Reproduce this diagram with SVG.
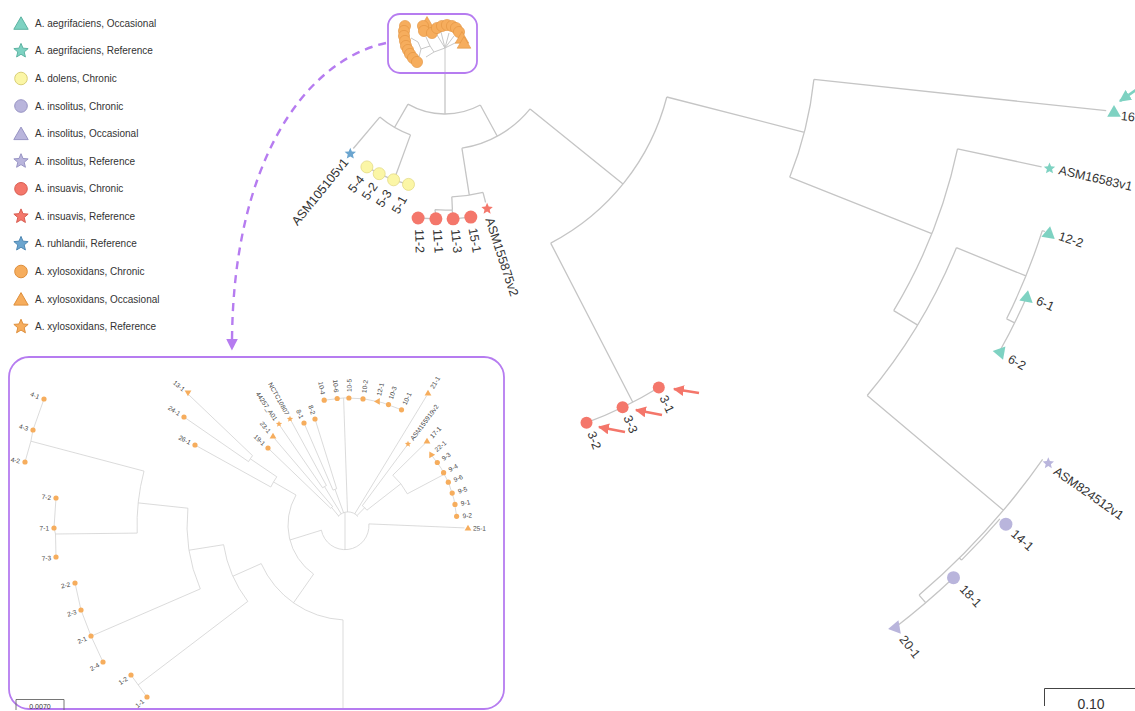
<svg xmlns="http://www.w3.org/2000/svg" width="1135" height="711" viewBox="0 0 1135 711">
<style>
.br{fill:none;stroke:#c5c5c5;stroke-width:1.3}
.ib{fill:none;stroke:#d2d2d2;stroke-width:.8}
.tb{fill:none;stroke:#c8c8c8;stroke-width:1}
text{font-family:"Liberation Sans",Arial,sans-serif;fill:#333}
.lb{font-size:12.5px;dominant-baseline:central}
.il{font-size:6.5px;dominant-baseline:central;fill:#444}
.lg{font-size:10px;dominant-baseline:central}
.e{text-anchor:end}
.teal{fill:#7ed2c2}.yel{fill:#fbf6a6;stroke:#e3da85;stroke-width:.8}.lav{fill:#b9b5dc}.red{fill:#f4776b}.blu{fill:#6ba5cf}.org{fill:#f6ad5d}
.ot{stroke:#5db3a2}.oy{stroke:#d9cf78}.ol{stroke:#9894c4}.or{stroke:#d85c50}.ob{stroke:#4f88b3}.oo{stroke:#de8f3c}
.lgs{stroke-width:1}
.frame{fill:none;stroke:#b67cf0;stroke-width:1.8}
.th{fill:#f6ad5d;stroke:#e0923f;stroke-width:.6}
</style>
<defs>
<path id="tri" d="M0,-6.5 L6.8,5.2 L-6.8,5.2Z"/>
<path id="star" d="M0,-6 L1.59,-2.18 L5.71,-1.85 L2.57,0.83 L3.53,4.85 L0,2.7 L-3.53,4.85 L-2.57,0.83 L-5.71,-1.85 L-1.59,-2.18Z"/>
<path id="trii" d="M0,-3.2 L3.4,2.6 L-3.4,2.6Z"/>
<path id="stari" d="M0,-3.3 L0.87,-1.2 L3.14,-1.02 L1.41,0.46 L1.94,2.67 L0,1.49 L-1.94,2.67 L-1.41,0.46 L-3.14,-1.02 L-0.87,-1.2Z"/>
<path id="triL" d="M0,-6.5 L7.2,6 L-7.2,6Z"/>
<path id="starL" d="M0,-7.5 L1.99,-2.73 L7.13,-2.32 L3.21,1.04 L4.41,6.07 L0,3.38 L-4.41,6.07 L-3.21,1.04 L-7.13,-2.32 L-1.99,-2.73Z"/>
<marker id="arR" viewBox="0 0 10 10" refX="9" refY="5" markerWidth="11" markerHeight="11" markerUnits="userSpaceOnUse" orient="auto"><path d="M0,0 L10,5 L0,10Z" fill="#f4766a"/></marker>
<marker id="arT" viewBox="0 0 10 10" refX="9" refY="5" markerWidth="12" markerHeight="12" markerUnits="userSpaceOnUse" orient="auto"><path d="M0,0 L10,5 L0,10Z" fill="#7ed2c2"/></marker>
<marker id="arP" viewBox="0 0 10 10" refX="2" refY="5" markerWidth="12" markerHeight="12" markerUnits="userSpaceOnUse" orient="auto"><path d="M0,0 L10,5 L0,10Z" fill="#b67cf0"/></marker>
</defs>
<rect width="1135" height="711" fill="#fff"/>

<!-- legend -->
<g id="legend">
<g id="lg-0"><use href="#triL" x="21" y="23.3" class="teal ot lgs"/><text class="lg" x="35" y="23.3">A. aegrifaciens, Occasional</text></g>
<g id="lg-1"><use href="#starL" x="21" y="50.9" class="teal ot lgs"/><text class="lg" x="35" y="50.9">A. aegrifaciens, Reference</text></g>
<g id="lg-2"><circle cx="21" cy="78.5" r="6.3" class="yel oy lgs"/><text class="lg" x="35" y="78.5">A. dolens, Chronic</text></g>
<g id="lg-3"><circle cx="21" cy="106" r="6.3" class="lav ol lgs"/><text class="lg" x="35" y="106">A. insolitus, Chronic</text></g>
<g id="lg-4"><use href="#triL" x="21" y="133.6" class="lav ol lgs"/><text class="lg" x="35" y="133.6">A. insolitus, Occasional</text></g>
<g id="lg-5"><use href="#starL" x="21" y="161.2" class="lav ol lgs"/><text class="lg" x="35" y="161.2">A. insolitus, Reference</text></g>
<g id="lg-6"><circle cx="21" cy="188.8" r="6.3" class="red or lgs"/><text class="lg" x="35" y="188.8">A. insuavis, Chronic</text></g>
<g id="lg-7"><use href="#starL" x="21" y="216.4" class="red or lgs"/><text class="lg" x="35" y="216.4">A. insuavis, Reference</text></g>
<g id="lg-8"><use href="#starL" x="21" y="243.9" class="blu ob lgs"/><text class="lg" x="35" y="243.9">A. ruhlandii, Reference</text></g>
<g id="lg-9"><circle cx="21" cy="271.5" r="6.3" class="org oo lgs"/><text class="lg" x="35" y="271.5">A. xylosoxidans, Chronic</text></g>
<g id="lg-10"><use href="#triL" x="21" y="299.1" class="org oo lgs"/><text class="lg" x="35" y="299.1">A. xylosoxidans, Occasional</text></g>
<g id="lg-11"><use href="#starL" x="21" y="326.7" class="org oo lgs"/><text class="lg" x="35" y="326.7">A. xylosoxidans, Reference</text></g>
</g>

<!-- connectors -->
<g id="connectors">
<path class="br" d="M445,73 L445,114 M408,104.1 A74,74 0 0 0 480.3,105 M408,104.1 L394.5,127.5 M379.8,117.1 A101,101 0 0 0 410.5,134.9 M379.8,117.1 L353.3,148.5 M410.5,134.9 L394,180 M366.9,166.9 A149,149 0 0 0 408.5,184.4"/>
<path class="br" d="M480.3,105 L497.3,136.2 M461.9,148.2 A109.5,109.5 0 0 0 530.1,108.9 M461.9,148.2 L469.3,195.1 M451.8,196.8 A157,157 0 0 0 483,192.3 M483,192.3 L485.6,202.5 M451.8,196.8 L452.4,209.8 M434.9,209.7 A170,170 0 0 0 452.1,209.9 M434.9,209.7 L435.5,213 M452.1,209.9 L452.6,213 M418.1,218 L435.9,218.8 M453.1,218.8 L470.8,217.1"/>
<path class="br" d="M530.1,108.9 L623,184.1 M550.7,243.1 A229,229 0 0 0 666.8,97 M550.7,243.1 L632.8,402.2 M658.8,387.5 A408,408 0 0 1 586.5,422.7"/>
<path class="br" d="M666.8,97 L804.4,132.3 M813.9,79.4 A371,371 0 0 1 789.7,177.2 M813.9,79.4 L1106.2,110.7 M789.7,177.2 L931.8,233.7 M957.5,148.9 A524,524 0 0 1 893.7,310.6 M957.5,148.9 L1041.6,166.8 M893.7,310.6 L917.7,325.1"/>
<path class="br" d="M956.4,247.7 A552,552 0 0 1 867.2,395.5 M956.4,247.7 L1025.9,275.9 M1042.3,230.6 A627,627 0 0 1 1006.6,318.8 M1042.3,230.6 L1045,231.5 M1006.6,318.8 L1014.7,322.8 M1026.9,296.6 A636,636 0 0 1 999.1,352.2"/>
<path class="br" d="M867.2,395.5 L1003.4,510.2 M1042.6,459.3 A730,730 0 0 1 919.1,595.1 M999.9,518.9 A733,733 0 0 1 961.5,560.1 M959.4,558 L961.5,560.1 M919.1,595.1 L925.6,602.7 M953.5,577.7 A740,740 0 0 1 894.5,627.9"/>

<!-- inset branches -->
<path class="ib" d="M343,710 L343,619.9 M343,619.9 A95,95 0 0 1 261.2,563.6 M293.5,602.8 L313.6,574.1 M313.6,574.1 A60,60 0 0 1 296,495 M289.9,540 L321.4,530.2 M321.4,530.2 A24,24 0 0 0 368.9,523.9 M368.9,523.9 L464.5,527.9 M345,550 L345,512.3 M338,516.6 A13,13 0 0 1 358,516.6"/>
<path class="ib" d="M338.6,516 L331.6,507.4 M330.7,508.3 A24,24 0 0 1 332.6,506.6 M330.7,508.3 L270,450 M332.6,506.6 L274.5,438.5 M341.2,513.9 L324.5,486.6 M322.6,487.8 A45,45 0 0 1 326.4,485.5 M322.6,487.8 L280.5,426.5 M326.4,485.5 L291.5,421.5 M343.6,512.8 L335,489.3 M333,490.1 A38,38 0 0 1 336.7,488.7 M333,490.1 L304,423 M336.7,488.7 L315,419"/>
<path class="ib" d="M347.5,512 L343.6,398.1 M324.2,400.2 A127,127 0 0 1 401.5,409.8 M354.7,513.9 L426.5,396 M357,515.6 L364.7,507.7 M362.3,505.7 A24,24 0 0 1 366.9,510.2 M362.3,505.7 L406.5,446 M366.9,510.2 L400.8,483.8 M392.8,475.2 A67,67 0 0 1 407.3,493.8 M392.8,475.2 L425,443.5 M407.3,493.8 L444.4,474.2 M430.9,454.2 A109,109 0 0 1 456.6,516.3"/>
<path class="ib" d="M296,495 L273.5,482 M270.8,487 A86,86 0 0 1 276.8,476.8 M270.8,487 L195,445 M276.8,476.8 L250.3,458.8 M248.5,461.6 A118,118 0 0 1 252.5,455.6 M248.5,461.6 L184,417 M252.5,455.6 L189,395"/>
<path class="ib" d="M261.2,563.6 L232.9,576.2 M247.8,601.4 A126,126 0 0 1 223.6,544.7 M247.8,601.4 L138,685 M131,675 L147,697 M223.6,544.7 L189,550.2 M200.3,588.9 A161,161 0 0 1 187.9,508.2 M200.3,588.9 L92,635.8 M75,583 L81,610 L91,636 L103,662 M187.9,508.2 L138.2,502.9 M137.2,533.1 A211,211 0 0 1 144,471.1 M144,471.1 L30.9,441.2 M44,399 L33,430 L30.9,441.2 L25,462 M137.2,533.1 L55.5,534 M56,498 L54,528 L55.5,534 L56,557"/>

<!-- dashed link from thumbnail to inset -->
<path d="M386,43 C300,62 233,170 232,341" fill="none" stroke="#b67cf0" stroke-width="2.4" stroke-dasharray="8,6" marker-end="url(#arP)"/>
<!-- arrows -->
<g id="arrows" stroke-width="2.6" fill="none">
<path d="M699,393 L674,389" stroke="#f4766a" marker-end="url(#arR)"/>
<path d="M662,415 L636,410" stroke="#f4766a" marker-end="url(#arR)"/>
<path d="M625,432 L599,427" stroke="#f4766a" marker-end="url(#arR)"/>
<path d="M1152,79 L1120,101" stroke="#7ed2c2" marker-end="url(#arT)"/>
</g>
</g>

<!-- thumbnail -->
<g id="thumb">
<rect x="388" y="14" width="89" height="59" rx="12" fill="#fff"/>
<path class="tb" d="M445,48 L445,73 M445,48 L437,35 M445,48 L441,32 M445,48 L449,33 M445,48 L454,36 M445,48 L459,41 M445,48 L434,52 L430,46 L421,49 L418,42 L411,38 M430,46 L426,37 M421,49 L419,57 M434,52 L426,57"/>
<circle class="th" cx="405" cy="26" r="5.6"/><circle class="th" cx="404" cy="31" r="5.6"/><circle class="th" cx="404" cy="36" r="5.6"/><circle class="th" cx="405" cy="41" r="5.6"/><circle class="th" cx="406" cy="46" r="5.6"/><circle class="th" cx="408" cy="50" r="5.6"/><circle class="th" cx="410" cy="54" r="5.6"/><circle class="th" cx="413" cy="58" r="5.6"/><circle class="th" cx="417" cy="62" r="5.6"/>
<use href="#tri" x="427" y="23" class="th"/>
<circle class="th" cx="423" cy="26" r="5.6"/><circle class="th" cx="424" cy="31" r="5.6"/><circle class="th" cx="432" cy="33" r="5.6"/><circle class="th" cx="437" cy="28" r="5.6"/><circle class="th" cx="442" cy="26" r="5.6"/><circle class="th" cx="447" cy="25" r="5.6"/><circle class="th" cx="452" cy="26" r="5.6"/><circle class="th" cx="456" cy="28" r="5.6"/><circle class="th" cx="459" cy="32" r="5.6"/>
<use href="#tri" x="462" y="38" class="th"/><use href="#tri" x="464" y="43" class="th"/>
<rect class="frame" x="388" y="14" width="89" height="59" rx="12"/>
</g>

<!-- main tree leaves -->
<g id="n-ASM105105v1"><use href="#star" x="350.3" y="153.7" class="blu"/><text class="lb e" transform="translate(346,160) rotate(-51)">ASM105105v1</text></g>
<g id="n-5-4"><circle cx="366.9" cy="166.9" r="6" class="yel"/><text class="lb e" transform="translate(362,177) rotate(-52)">5-4</text></g>
<g id="n-5-2"><circle cx="379.2" cy="173.7" r="6" class="yel"/><text class="lb e" transform="translate(375,184) rotate(-55)">5-2</text></g>
<g id="n-5-3"><circle cx="393.6" cy="179.8" r="6" class="yel"/><text class="lb e" transform="translate(389,191) rotate(-57)">5-3</text></g>
<g id="n-5-1"><circle cx="408.5" cy="184.4" r="6" class="yel"/><text class="lb e" transform="translate(404,197) rotate(-60)">5-1</text></g>
<g id="n-11-2"><circle cx="418.1" cy="218" r="6.5" class="red"/><text class="lb" transform="translate(419,229) rotate(88)">11-2</text></g>
<g id="n-11-1"><circle cx="435.9" cy="218.8" r="6.5" class="red"/><text class="lb" transform="translate(437,229) rotate(86)">11-1</text></g>
<g id="n-11-3"><circle cx="453.1" cy="218.8" r="6.5" class="red"/><text class="lb" transform="translate(455,229) rotate(84)">11-3</text></g>
<g id="n-15-1"><circle cx="470.8" cy="217.1" r="6.5" class="red"/><text class="lb" transform="translate(472.5,228) rotate(80)">15-1</text></g>
<g id="n-ASM155875v2"><use href="#star" x="487.1" y="208.8" class="red"/><text class="lb" transform="translate(489,218) rotate(72)">ASM155875v2</text></g>
<g id="n-3-1"><circle cx="658.8" cy="387.5" r="6" class="red"/><text class="lb" transform="translate(663,396) rotate(65)">3-1</text></g>
<g id="n-3-3"><circle cx="622.6" cy="407.3" r="6" class="red"/><text class="lb" transform="translate(627,416) rotate(68)">3-3</text></g>
<g id="n-3-2"><circle cx="586.5" cy="422.7" r="6" class="red"/><text class="lb" transform="translate(591,432) rotate(70)">3-2</text></g>
<g id="n-16-1"><use href="#tri" x="1114" y="111.5" class="teal"/><text class="lb" transform="translate(1121,116) rotate(6)">16-1</text></g>
<g id="n-ASM16583v1"><use href="#star" x="1049.5" y="168.5" class="teal"/><text class="lb" transform="translate(1059,170) rotate(13)">ASM16583v1</text></g>
<g id="n-12-2"><use href="#tri" transform="translate(1049,232.7) rotate(10)" class="teal"/><text class="lb" transform="translate(1059,236) rotate(18)">12-2</text></g>
<g id="n-6-1"><use href="#tri" transform="translate(1026.9,296.6) rotate(10)" class="teal"/><text class="lb" transform="translate(1037,300) rotate(25)">6-1</text></g>
<g id="n-6-2"><use href="#tri" transform="translate(999.1,352.2) rotate(-80)" class="teal"/><text class="lb" transform="translate(1009,358) rotate(30)">6-2</text></g>
<g id="n-ASM824512v1"><use href="#star" x="1048.3" y="463.3" class="lav"/><text class="lb" transform="translate(1055,470) rotate(35)">ASM824512v1</text></g>
<g id="n-14-1"><circle cx="1005.9" cy="524.2" r="6.5" class="lav"/><text class="lb" transform="translate(1013,532) rotate(42)">14-1</text></g>
<g id="n-18-1"><circle cx="953.5" cy="577.7" r="6.5" class="lav"/><text class="lb" transform="translate(962,587) rotate(47)">18-1</text></g>
<g id="n-20-1"><use href="#tri" transform="translate(894.5,627.9) rotate(-100)" class="lav"/><text class="lb" transform="translate(902,637) rotate(52)">20-1</text></g>

<!-- inset frame -->
<g id="inset">
<rect class="frame" x="9" y="357" width="495" height="352" rx="20"/>
<path d="M16,710 L16,699.5 L64,699.5 L64,710" fill="none" stroke="#666" stroke-width=".9"/>
<text x="40" y="709" font-size="7" text-anchor="middle" fill="#444">0.0070</text>
</g>

<!-- inset leaves -->
<g id="i-4-1"><circle class="org" cx="44" cy="399" r="2.6"/><text class="il e" transform="translate(39.4,397.1) rotate(22.5)">4-1</text></g>
<g id="i-4-3"><circle class="org" cx="33" cy="430" r="2.6"/><text class="il e" transform="translate(28.2,428.6) rotate(16.8)">4-3</text></g>
<g id="i-4-2"><circle class="org" cx="25" cy="462" r="2.6"/><text class="il e" transform="translate(20.1,461) rotate(11)">4-2</text></g>
<g id="i-7-2"><circle class="org" cx="56" cy="498" r="2.6"/><text class="il e" transform="translate(51,497.5) rotate(5.3)">7-2</text></g>
<g id="i-7-1"><circle class="org" cx="54" cy="528" r="2.6"/><text class="il e" transform="translate(49,528) rotate(-0.6)">7-1</text></g>
<g id="i-7-3"><circle class="org" cx="56" cy="557" r="2.6"/><text class="il e" transform="translate(51,557.5) rotate(-6.3)">7-3</text></g>
<g id="i-2-2"><circle class="org" cx="75" cy="583" r="2.6"/><text class="il e" transform="translate(70.1,584) rotate(-12)">2-2</text></g>
<g id="i-2-3"><circle class="org" cx="81" cy="610" r="2.6"/><text class="il e" transform="translate(76.2,611.5) rotate(-17.7)">2-3</text></g>
<g id="i-2-1"><circle class="org" cx="91" cy="636" r="2.6"/><text class="il e" transform="translate(86.4,638) rotate(-23.4)">2-1</text></g>
<g id="i-2-4"><circle class="org" cx="103" cy="662" r="2.6"/><text class="il e" transform="translate(98.6,664.4) rotate(-29.2)">2-4</text></g>
<g id="i-1-2"><circle class="org" cx="131" cy="675" r="2.6"/><text class="il e" transform="translate(126.9,677.8) rotate(-34.7)">1-2</text></g>
<g id="i-1-1"><circle class="org" cx="147" cy="697" r="2.6"/><text class="il e" transform="translate(143.2,700.3) rotate(-40.6)">1-1</text></g>
<g id="i-13-1"><use href="#trii" transform="translate(188,393) rotate(180)" class="org"/><text class="il e" transform="translate(184.1,389.8) rotate(39.5)">13-1</text></g>
<g id="i-24-1"><circle class="org" cx="184" cy="417" r="2.6"/><text class="il e" transform="translate(179.8,414.2) rotate(33.4)">24-1</text></g>
<g id="i-26-1"><circle class="org" cx="195" cy="445" r="2.6"/><text class="il e" transform="translate(190.6,442.7) rotate(27.6)">26-1</text></g>
<g id="i-19-1"><circle class="org" cx="268" cy="448" r="2.6"/><text class="il e" transform="translate(264.4,444.5) rotate(43.9)">19-1</text></g>
<g id="i-23-1"><use href="#trii" x="273" y="436" class="org"/><text class="il e" transform="translate(269.8,432.2) rotate(49.9)">23-1</text></g>
<g id="i-44257_A01"><use href="#stari" x="279" y="424" class="org"/><text class="il e" transform="translate(276.2,419.9) rotate(55.7)">44257_A01</text></g>
<g id="i-NCTC10807"><use href="#stari" x="290" y="419" class="org"/><text class="il e" transform="translate(287.6,414.6) rotate(61.3)">NCTC10807</text></g>
<g id="i-8-1"><circle class="org" cx="304" cy="423" r="2.6"/><text class="il e" transform="translate(302,418.4) rotate(66.7)">8-1</text></g>
<g id="i-8-2"><circle class="org" cx="315" cy="419" r="2.6"/><text class="il e" transform="translate(313.5,414.2) rotate(72.7)">8-2</text></g>
<g id="i-10-4"><circle class="org" cx="324.2" cy="400.2" r="2.6"/><text class="il e" transform="translate(323.1,394.4) rotate(79.2)">10-4</text></g>
<g id="i-10-6"><circle class="org" cx="337.2" cy="398.5" r="2.6"/><text class="il e" transform="translate(336.6,392.5) rotate(85.1)">10-6</text></g>
<g id="i-10-5"><circle class="org" cx="348.9" cy="398" r="2.6"/><text class="il" transform="translate(348.9,392) rotate(-89.6)">10-5</text></g>
<g id="i-10-2"><circle class="org" cx="363" cy="398.9" r="2.6"/><text class="il" transform="translate(363.8,392.9) rotate(-83.2)">10-2</text></g>
<g id="i-12-1"><use href="#trii" transform="translate(377.2,401.4) rotate(-90)" class="org"/><text class="il" transform="translate(378.6,395.6) rotate(-76.7)">12-1</text></g>
<g id="i-10-3"><circle class="org" cx="388.5" cy="404.6" r="2.6"/><text class="il" transform="translate(390.4,398.9) rotate(-71.4)">10-3</text></g>
<g id="i-10-1"><circle class="org" cx="401.5" cy="409.8" r="2.6"/><text class="il" transform="translate(404,404.4) rotate(-65.1)">10-1</text></g>
<g id="i-21-1"><use href="#trii" x="428" y="393" class="org"/><text class="il" transform="translate(431.5,388) rotate(-58.8)">21-1</text></g>
<g id="i-ASM155919v2"><use href="#stari" x="408" y="444" class="org"/><text class="il" transform="translate(411.5,439.5) rotate(-53.5)">ASM155919v2</text></g>
<g id="i-17-1"><use href="#trii" x="427" y="441" class="org"/><text class="il" transform="translate(431,437) rotate(-46.8)">17-1</text></g>
<g id="i-22-1"><use href="#trii" transform="translate(430.9,454.2) rotate(-30)" class="org"/><text class="il" transform="translate(435.4,450.3) rotate(-40.5)">22-1</text></g>
<g id="i-9-3"><circle class="org" cx="437.3" cy="462.5" r="2.6"/><text class="il" transform="translate(442.2,459) rotate(-35)">9-3</text></g>
<g id="i-9-4"><circle class="org" cx="443.6" cy="472.7" r="2.6"/><text class="il" transform="translate(448.9,469.8) rotate(-28.7)">9-4</text></g>
<g id="i-9-6"><circle class="org" cx="448.3" cy="482.2" r="2.6"/><text class="il" transform="translate(453.8,479.9) rotate(-23.1)">9-6</text></g>
<g id="i-9-5"><circle class="org" cx="452.2" cy="493.1" r="2.6"/><text class="il" transform="translate(458,491.4) rotate(-17)">9-5</text></g>
<g id="i-9-1"><circle class="org" cx="455" cy="504.4" r="2.6"/><text class="il" transform="translate(460.9,503.3) rotate(-10.9)">9-1</text></g>
<g id="i-9-2"><circle class="org" cx="456.6" cy="516.3" r="2.6"/><text class="il" transform="translate(462.6,515.8) rotate(-4.6)">9-2</text></g>
<g id="i-25-1"><use href="#trii" x="468" y="528" class="org"/><text class="il" transform="translate(473,528.1) rotate(1.4)">25-1</text></g>

<!-- scale bar -->
<g id="scale">
<path d="M1044.5,706 L1044.5,688.5 L1135,688.5" fill="none" stroke="#444" stroke-width="1"/>
<text x="1091" y="709" font-size="14" text-anchor="middle">0.10</text>
</g>
</svg>
